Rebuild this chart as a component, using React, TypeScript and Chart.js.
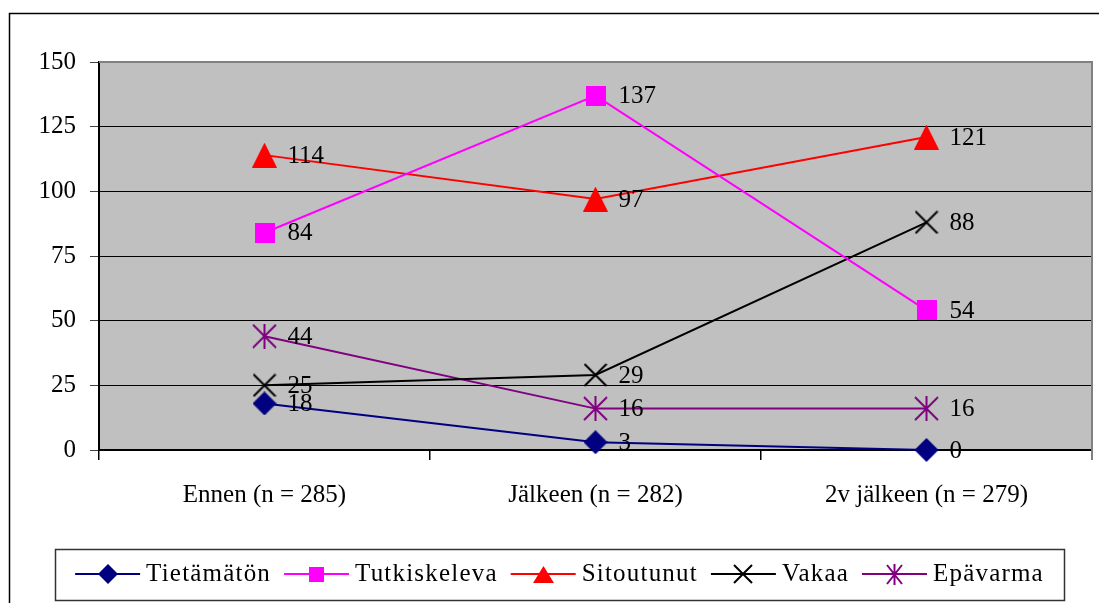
import React, { useEffect, useRef } from 'react';
import { Chart, registerables } from 'chart.js';

Chart.register(...registerables);

const categories = ['Ennen (n = 285)', 'Jälkeen (n = 282)', '2v jälkeen (n = 279)'];
const seriesNames = ['Tietämätön', 'Tutkiskeleva', 'Sitoutunut', 'Vakaa', 'Epävarma'];
const tietamaton = [18, 3, 0];
const tutkiskeleva = [84, 137, 54];
const sitoutunut = [114, 97, 121];
const vakaa = [25, 29, 88];
const epavarma = [44, 16, 16];
const yTicks = [0, 25, 50, 75, 100, 125, 150];

const seriesColors = ['#000080', '#FF00FF', '#FF0000', '#000000', '#800080'];
const seriesMarkers = ['diamond', 'square', 'triangle', 'x', 'star'];

const FONT = "'Liberation Serif', 'Times New Roman', serif";
const FONT_SIZE = 25;

function makeMarker(kind: string, color: string, w: number, h: number): HTMLCanvasElement {
  const c = document.createElement('canvas');
  c.width = w;
  c.height = h;
  const g = c.getContext('2d')!;
  g.fillStyle = color;
  g.strokeStyle = color;
  g.lineWidth = 2;
  g.beginPath();
  switch (kind) {
    case 'diamond':
      g.moveTo(w / 2, 0);
      g.lineTo(w, h / 2);
      g.lineTo(w / 2, h);
      g.lineTo(0, h / 2);
      g.closePath();
      g.fill();
      break;
    case 'square':
      g.fillRect(0, 0, w, h);
      break;
    case 'triangle':
      g.moveTo(w / 2, 0);
      g.lineTo(w, h);
      g.lineTo(0, h);
      g.closePath();
      g.fill();
      break;
    case 'x':
      g.moveTo(1, 1);
      g.lineTo(w - 1, h - 1);
      g.moveTo(w - 1, 1);
      g.lineTo(1, h - 1);
      g.stroke();
      break;
    case 'star':
      g.moveTo(w / 2, 0);
      g.lineTo(w / 2, h);
      g.moveTo(1, 1);
      g.lineTo(w - 1, h - 1);
      g.moveTo(w - 1, 1);
      g.lineTo(1, h - 1);
      g.stroke();
      break;
  }
  return c;
}

const chartMarkerSize: Record<string, [number, number]> = {
  diamond: [24, 24],
  square: [20, 20],
  triangle: [25, 25],
  x: [24, 24],
  star: [25, 25],
};
const legendMarkerSize: Record<string, [number, number]> = {
  diamond: [20, 20],
  square: [15, 15],
  triangle: [21, 17],
  x: [20, 20],
  star: [17, 21],
};

export default function App() {
  const ref = useRef<HTMLCanvasElement | null>(null);

  useEffect(() => {
    const seriesData = [tietamaton, tutkiskeleva, sitoutunut, vakaa, epavarma];
    const chartMarkers = seriesMarkers.map((m, i) =>
      makeMarker(m, seriesColors[i], chartMarkerSize[m][0], chartMarkerSize[m][1])
    );
    const legendMarkers = seriesMarkers.map((m, i) =>
      makeMarker(m, seriesColors[i], legendMarkerSize[m][0], legendMarkerSize[m][1])
    );

    const backgroundPlugin = {
      id: 'bgPlugin',
      beforeDraw(chart: any) {
        const { ctx, chartArea: a, width, height } = chart;
        ctx.save();
        ctx.fillStyle = '#ffffff';
        ctx.fillRect(0, 0, width, height);
        ctx.strokeStyle = '#000000';
        ctx.lineWidth = 1.5;
        ctx.strokeRect(9.5, 13.5, 1300, 1300);
        ctx.fillStyle = '#C0C0C0';
        ctx.fillRect(a.left, a.top, a.right - a.left, a.bottom - a.top);
        ctx.restore();
      },
      beforeDatasetsDraw(chart: any) {
        const { ctx, chartArea: a } = chart;
        ctx.save();
        ctx.strokeStyle = '#808080';
        ctx.lineWidth = 2;
        ctx.beginPath();
        ctx.moveTo(a.left, a.top);
        ctx.lineTo(a.right, a.top);
        ctx.lineTo(a.right, a.bottom + 10);
        ctx.stroke();
        ctx.restore();
      },
    };

    const labelPlugin = {
      id: 'valueLabels',
      afterDatasetsDraw(chart: any) {
        const { ctx } = chart;
        ctx.save();
        ctx.font = `${FONT_SIZE}px ${FONT}`;
        ctx.fillStyle = '#000';
        ctx.textAlign = 'left';
        ctx.textBaseline = 'middle';
        chart.data.datasets.forEach((ds: any, i: number) => {
          const meta = chart.getDatasetMeta(i);
          meta.data.forEach((pt: any, j: number) => {
            ctx.fillText(String(ds.data[j]), pt.x + 23, pt.y + 1);
          });
        });
        ctx.restore();
      },
    };

    const legendPlugin = {
      id: 'boxLegend',
      afterDraw(chart: any) {
        const { ctx } = chart;
        const boxL = 55, boxT = 549, boxR = 1064, boxB = 600;
        ctx.save();
        ctx.strokeStyle = '#333';
        ctx.lineWidth = 1.5;
        ctx.strokeRect(boxL + 0.5, boxT + 0.5, boxR - boxL, boxB - boxT);
        ctx.font = `${FONT_SIZE}px ${FONT}`;
        if ('letterSpacing' in ctx) (ctx as any).letterSpacing = '1.2px';
        const lineLen = 65, gapText = 6, gapItem = 13;
        const widths = seriesNames.map((n) => ctx.measureText(n).width);
        const total =
          widths.reduce((s, w) => s + w, 0) + seriesNames.length * (lineLen + gapText) + (seriesNames.length - 1) * gapItem;
        let x = (boxL + boxR) / 2 - total / 2;
        const cy = 574;
        seriesNames.forEach((name, i) => {
          ctx.strokeStyle = seriesColors[i];
          ctx.lineWidth = 2;
          ctx.beginPath();
          ctx.moveTo(x, cy);
          ctx.lineTo(x + lineLen, cy);
          ctx.stroke();
          const mk = legendMarkers[i];
          ctx.drawImage(mk, Math.round(x + lineLen / 2 - mk.width / 2), Math.round(cy - mk.height / 2));
          x += lineLen + gapText;
          ctx.fillStyle = '#000';
          ctx.textAlign = 'left';
          ctx.textBaseline = 'middle';
          ctx.fillText(name, x, cy);
          x += widths[i] + gapItem;
        });
        ctx.restore();
      },
    };

    const chart = new Chart(ref.current!, {
      type: 'line',
      data: {
        labels: categories,
        datasets: seriesNames.map((name, i) => ({
          label: name,
          data: seriesData[i],
          borderColor: seriesColors[i],
          backgroundColor: seriesColors[i],
          borderWidth: 2,
          pointStyle: chartMarkers[i] as any,
          pointRadius: 12,
          pointHoverRadius: 12,
          tension: 0,
          clip: false as any,
        })),
      },
      options: {
        animation: false,
        responsive: false,
        maintainAspectRatio: false,
        devicePixelRatio: 1,
        layout: { autoPadding: false, padding: { top: 62, right: 7, left: 0, bottom: 0 } },
        plugins: {
          legend: { display: false },
          tooltip: { enabled: false },
        },
        scales: {
          x: {
            type: 'category',
            offset: true,
            grid: {
              offset: true,
              drawOnChartArea: false,
              drawTicks: true,
              tickLength: 10,
              color: '#000',
              lineWidth: 1.5,
            },
            border: { color: '#000', width: 2 },
            ticks: {
              color: '#000',
              font: { family: FONT, size: FONT_SIZE },
              padding: 20,
              maxRotation: 0,
              autoSkip: false,
            },
            afterFit: (s: any) => {
              s.height = 153;
              s.paddingLeft = 0;
              s.paddingRight = 0;
            },
          },
          y: {
            min: 0,
            max: 150,
            afterBuildTicks: (s: any) => {
              s.ticks = yTicks.map((v) => ({ value: v }));
            },
            ticks: {
              color: '#000',
              font: { family: FONT, size: FONT_SIZE },
              padding: 14,
            },
            grid: {
              color: (c: any) => (c.tick && c.tick.value === 150 ? 'rgba(0,0,0,0)' : '#000'),
              lineWidth: 1,
              tickLength: 9,
              tickColor: '#404040',
            },
            border: { color: '#000', width: 2 },
            afterFit: (s: any) => {
              s.width = 99;
              s.paddingTop = 0;
              s.paddingBottom = 0;
            },
          },
        },
      },
      plugins: [backgroundPlugin, labelPlugin, legendPlugin],
    });
    return () => chart.destroy();
  }, []);

  return (
    <div style={{ position: 'absolute', left: 0, top: 0, width: 1099, height: 603, overflow: 'hidden' }}>
      <canvas ref={ref} width={1099} height={603} style={{ display: 'block' }} />
    </div>
  );
}
